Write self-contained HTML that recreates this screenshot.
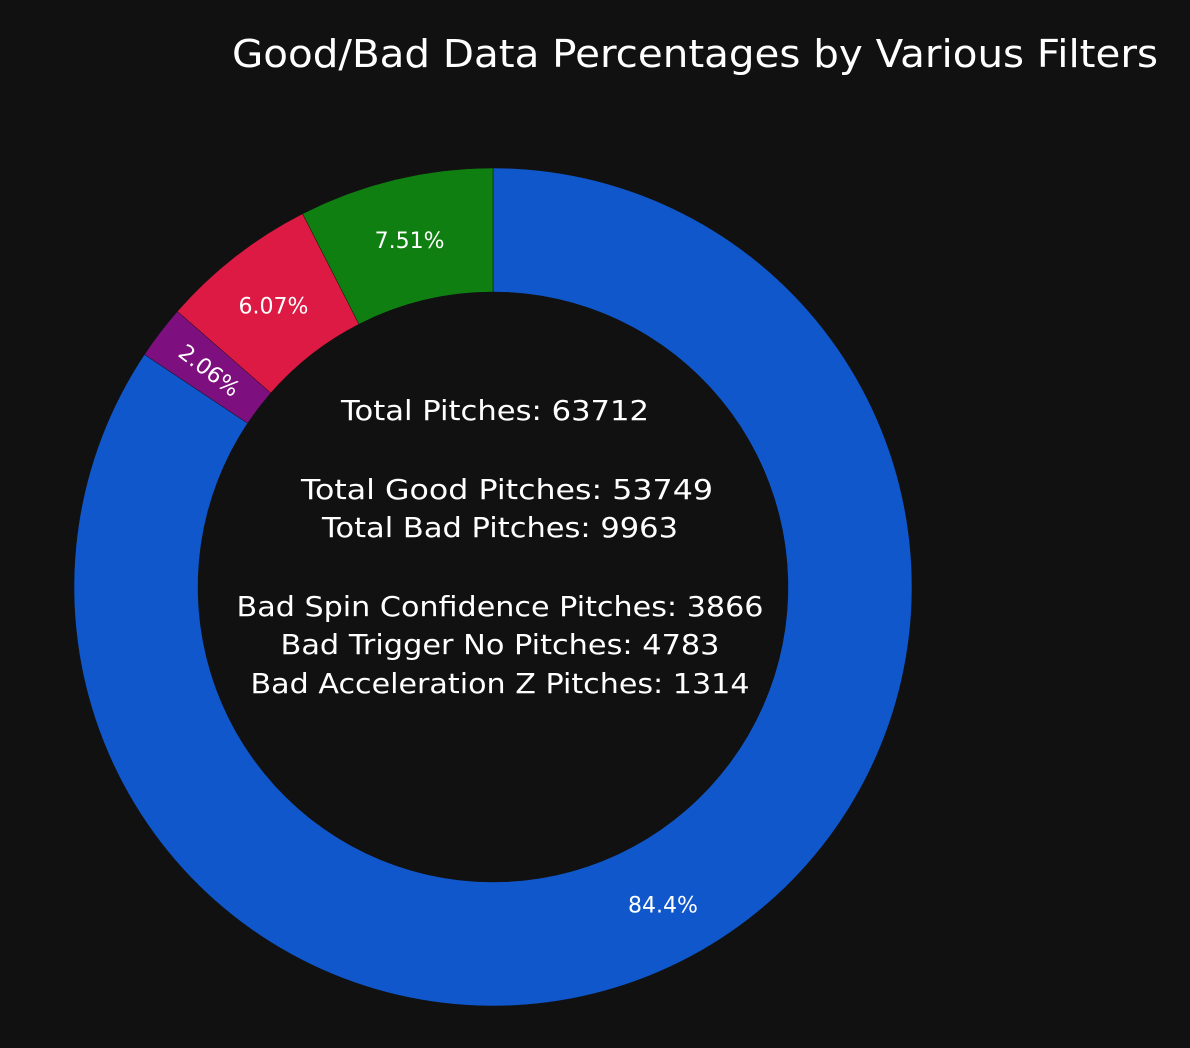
<!DOCTYPE html>
<html><head><meta charset="utf-8"><style>
body{margin:0;background:#111111;}
svg{display:block;font-family:"DejaVu Sans","Liberation Sans",sans-serif;}
</style></head><body>
<svg id="chart" width="1190" height="1048">
<rect width="1190" height="1048" fill="#111111"/>
<text x="695" y="67" font-size="38" fill="#ffffff" text-anchor="middle" textLength="926" lengthAdjust="spacingAndGlyphs">Good/Bad Data Percentages by Various Filters</text>
<g id="slices"></g>
<g id="center-text" fill="#ffffff" font-size="28" text-anchor="middle">
<text x="495" y="420" textLength="308" lengthAdjust="spacingAndGlyphs">Total Pitches: 63712</text>
<text x="507" y="499" textLength="412" lengthAdjust="spacingAndGlyphs">Total Good Pitches: 53749</text>
<text x="500" y="537" textLength="356" lengthAdjust="spacingAndGlyphs">Total Bad Pitches: 9963</text>
<text x="500" y="616" textLength="527" lengthAdjust="spacingAndGlyphs">Bad Spin Confidence Pitches: 3866</text>
<text x="500" y="654" textLength="439" lengthAdjust="spacingAndGlyphs">Bad Trigger No Pitches: 4783</text>
<text x="500" y="693" textLength="499" lengthAdjust="spacingAndGlyphs">Bad Acceleration Z Pitches: 1314</text>
</g>
</svg>
<script>
const categories=['Good Pitches','Bad Acceleration Z','Bad Spin Confidence','Bad Trigger No'];
const values=[53749,1314,3866,4783];
const colors=['#0f57cb','#7e0f7e','#dc1a43','#0f7f12'];
const cx=493,cy=587,R=419,r=295;
const total=values.reduce((a,b)=>a+b,0);
const g=document.getElementById('slices');
const NS='http://www.w3.org/2000/svg';
function pt(rad,a){return [cx+rad*Math.sin(a),cy-rad*Math.cos(a)];}
let acc=0;
values.forEach((v,i)=>{
  const a0=acc/total*2*Math.PI; acc+=v; const a1=acc/total*2*Math.PI;
  const large=(a1-a0)>Math.PI?1:0;
  const p0=pt(R,a0),p1=pt(R,a1),q1=pt(r,a1),q0=pt(r,a0);
  const p=document.createElementNS(NS,'path');
  p.setAttribute('d',`M${p0[0]},${p0[1]}A${R},${R} 0 ${large} 1 ${p1[0]},${p1[1]}L${q1[0]},${q1[1]}A${r},${r} 0 ${large} 0 ${q0[0]},${q0[1]}Z`);
  p.setAttribute('fill',colors[i]);
  p.setAttribute('stroke','#111111');p.setAttribute('stroke-width','0.5');
  
  
  g.appendChild(p);
  const pct=v/total*100;
  const txt=pct>=10?pct.toFixed(1)+'%':pct.toFixed(2)+'%';
  const am=(a0+a1)/2;
  const t=document.createElementNS(NS,'text');
  
  
  t.setAttribute('fill','#ffffff');t.setAttribute('font-size','22');t.setAttribute('text-anchor','middle');
  let lp;
  if(pct>=10) lp=pt(R*0.86,am);
  else lp=pt((R+r)/2,am);
  t.setAttribute('x',lp[0]);t.setAttribute('y',lp[1]+8);
  if(pct<3){const deg=am*180/Math.PI-270;t.setAttribute('transform',`rotate(${deg} ${lp[0]} ${lp[1]})`);}
  t.textContent=txt;
  g.appendChild(t);
});
</script>
</body></html>
